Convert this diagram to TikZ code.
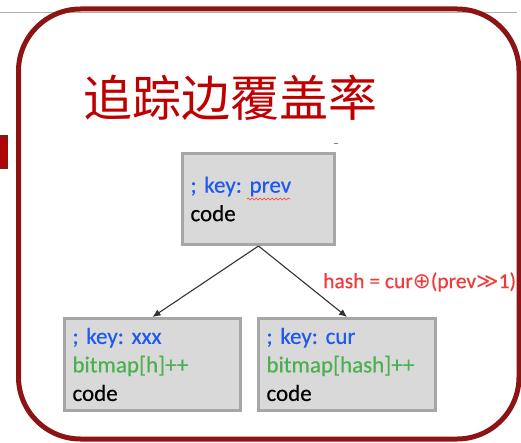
\documentclass[tikz,border=0pt]{standalone}
\usepackage{fontspec}
\setmainfont{Carlito}[FakeBold=0.4]
\newfontfamily\cjk{Noto Sans CJK SC}
\newfontfamily\symfont{DejaVu Sans}
\usetikzlibrary{arrows.meta,decorations.pathmorphing}
\definecolor{framered}{HTML}{8C1414}
\definecolor{titlered}{HTML}{C00000}
\definecolor{labelred}{HTML}{F03A3A}
\definecolor{keyblue}{HTML}{1E5AF0}
\definecolor{mapgreen}{HTML}{4CB050}
\definecolor{boxfill}{HTML}{D9D9D9}
\definecolor{boxline}{HTML}{A6A6A6}
\frenchspacing
\tikzset{
  codebox/.style={draw=boxline, fill=boxfill, line width=3pt, rectangle,
    align=left, inner xsep=8pt, inner ysep=0pt,
    font=\fontsize{23pt}{28.5pt}\selectfont},
  link/.style={draw=black!80, line width=1.1pt, -{Latex[length=8pt,width=7pt]}},
}
\begin{document}
\begin{tikzpicture}[x=1pt,y=-1pt]
  \useasboundingbox (0,0) rectangle (521,443);
  % slide background pieces
  \draw[black!30, line width=1.5pt] (0,12.5) -- (517,12.5);
  \fill[framered] (0,135) rectangle (7.5,169);
  \fill[red!75!black] (1,138) rectangle (5.5,166);
  % rounded frame
  \draw[framered, line width=5pt, rounded corners=62pt] (18.5,9) rectangle (519,439);
  % title
  \node[text=titlered, font=\cjk\fontsize{49pt}{52pt}\selectfont, inner sep=0pt] (title) at (230,98) {追踪边覆盖率};
  % blocks
  \node[codebox, minimum width=152pt, minimum height=91pt, text width=136pt] (top) at (258.5,199)
    {\textcolor{keyblue}{; key: prev}\\code};
  \node[codebox, minimum width=176pt, minimum height=92pt, text width=160pt] (left) at (152.5,364.5)
    {\textcolor{keyblue}{; key: xxx}\\\textcolor{mapgreen}{bitmap[h]++}\\code};
  \node[codebox, minimum width=177pt, minimum height=92pt, text width=161pt] (right) at (347,364.5)
    {\textcolor{keyblue}{; key: cur}\\\textcolor{mapgreen}{bitmap[hash]++}\\code};
  % spell-check squiggle and stray mark
  \draw[red!80, line width=0.6pt, decorate, decoration={snake, segment length=4pt, amplitude=0.9pt}] (247,199) -- (290,199);
  \draw[mapgreen, line width=1pt] (334,143.5) -- (337.5,143.5);
  % edges
  \draw[link] (top.south) -- (left.north);
  \draw[link] (top.south) -- (right.north);
  \node[anchor=west, text=labelred, inner sep=0pt, font=\fontsize{21.5pt}{24pt}\selectfont] (hash) at (323,282)
    {hash = cur{\symfont ⊕}(prev{\symfont ≫}1)};
\end{tikzpicture}
\end{document}
